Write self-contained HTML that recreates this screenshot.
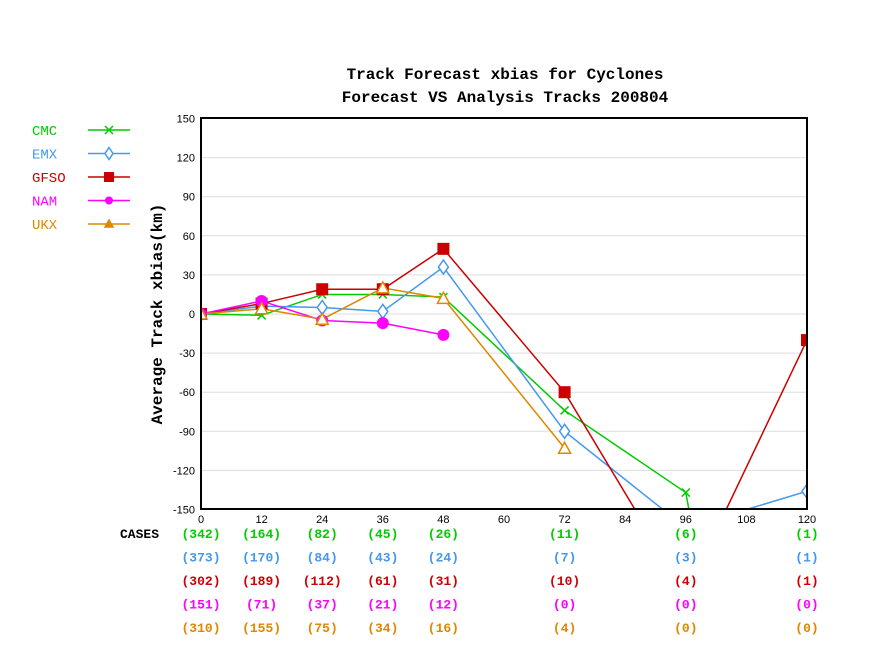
<!DOCTYPE html>
<html><head><meta charset="utf-8"><style>
body{margin:0;background:#fff;width:888px;height:666px;overflow:hidden}
svg{display:block}
</style></head><body>
<svg id="chart" width="888" height="666" xmlns="http://www.w3.org/2000/svg" font-family="Liberation Sans, sans-serif">
<defs><clipPath id="pc"><rect x="201" y="118" width="606" height="391"/></clipPath></defs>
<text x="505" y="79" text-anchor="middle" font-family="Liberation Mono, monospace" font-weight="bold" font-size="16">Track Forecast xbias for Cyclones</text>
<text x="505" y="102" text-anchor="middle" font-family="Liberation Mono, monospace" font-weight="bold" font-size="16">Forecast VS Analysis Tracks 200804</text>
<text transform="translate(162,314) rotate(-90)" text-anchor="middle" font-family="Liberation Mono, monospace" font-weight="bold" font-size="16">Average Track xbias(km)</text>
<text x="120" y="538" font-family="Liberation Mono, monospace" font-weight="bold" font-size="13">CASES</text>
<g id="grid"></g><g id="series" clip-path="url(#pc)"></g><g id="markers" clip-path="url(#pc)"></g>
<rect x="201" y="118" width="606" height="391" fill="none" stroke="#000" stroke-width="2"/>
<g id="axes"></g><g id="legend"></g><g id="cases"></g>
</svg>
<script>
const hours=[0,12,24,36,48,72,96,120];
const xTicks=[0,12,24,36,48,60,72,84,96,108,120];
const yTicks=[150,120,90,60,30,0,-30,-60,-90,-120,-150];
const names=["CMC","EMX","GFSO","NAM","UKX"];
const colors=["#00cc00","#4499ee","#cc0000","#ff00ff","#dd8800"];
const cmcVals=[0,-1,15,15,13,-74,-137,-650];
const emxVals=[0,6,5,2,36,-90,-164,-136];
const gfsoVals=[0,8,19,19,50,-60,-215,-20];
const namVals=[0,10,-5,-7,-16,null,null,null];
const ukxVals=[0,4,-4,20,12,-103,null,null];
const cmcCases=["342","164","82","45","26","11","6","1"];
const emxCases=["373","170","84","43","24","7","3","1"];
const gfsoCases=["302","189","112","61","31","10","4","1"];
const namCases=["151","71","37","21","12","0","0","0"];
const ukxCases=["310","155","75","34","16","4","0","0"];
const allVals=[cmcVals,emxVals,gfsoVals,namVals,ukxVals];
const allCases=[cmcCases,emxCases,gfsoCases,namCases,ukxCases];
const NS="http://www.w3.org/2000/svg";
const X=h=>201+h*(606/120);
const Y=v=>314-v*(391/300);
function mk(p,t,a){const e=document.createElementNS(NS,t);for(const k in a)e.setAttribute(k,a[k]);p.appendChild(e);return e;}
const g=document.getElementById('grid'),ax=document.getElementById('axes');
yTicks.forEach(v=>{
 if(v!==150&&v!==-150){const l=mk(g,'line',{x1:201,x2:807,y1:Y(v),y2:Y(v),stroke:'#ddd','stroke-width':1});
 
 }
 const t=mk(ax,'text',{x:195,y:Y(v)+4,'text-anchor':'end','font-size':11});t.textContent=v;
 
 
});
xTicks.forEach(h=>{const t=mk(ax,'text',{x:X(h),y:523,'text-anchor':'middle','font-size':11});t.textContent=h;
 
 });
function marker(p,i,x,y,big){
 const c=colors[i];let e;
 if(i===0){e=mk(p,'path',{d:`M${x-4},${y-4}L${x+4},${y+4}M${x-4},${y+4}L${x+4},${y-4}`,stroke:c,'stroke-width':1.5,fill:'none'});}
 else if(i===1){const s=big?6:5;e=mk(p,'path',{d:`M${x},${y-s-1}L${x+s-1},${y}L${x},${y+s+1}L${x-s+1},${y}Z`,stroke:c,'stroke-width':1.5,fill:'#fff'});}
 else if(i===2){const s=big?6:5;e=mk(p,'rect',{x:x-s,y:y-s,width:2*s,height:2*s,fill:c});}
 else if(i===3){e=mk(p,'circle',{cx:x,cy:y,r:big?6:4,fill:c});}
 else {const s=big?6:4;e=mk(p,'path',{d:`M${x},${y-s}L${x+s},${y+s-1}L${x-s},${y+s-1}Z`,stroke:c,'stroke-width':1.5,fill:big?'#fff':c});}
 return e;
}
const sg=document.getElementById('series'),mg=document.getElementById('markers');
allVals.forEach((vals,i)=>{
 const pts=[];vals.forEach((v,k)=>{if(v!==null)pts.push([X(hours[k]),Y(v)]);});
 const pl=mk(sg,'polyline',{points:pts.map(p=>p.join(',')).join(' '),fill:'none',stroke:colors[i],'stroke-width':1.5});
 
 
 pts.forEach(p=>{const m=marker(mg,i,p[0],p[1],true);
  
  });
});
const lg=document.getElementById('legend');
names.forEach((n,i)=>{
 const y=130+i*23.5;
 const t=mk(lg,'text',{x:32,y:y+5,fill:colors[i],'font-family':'Liberation Mono, monospace','font-size':14});t.textContent=n;
 
 
 const l=mk(lg,'line',{x1:88,x2:130,y1:y,y2:y,stroke:colors[i],'stroke-width':1.5});
 
 
 marker(lg,i,109,y,false);
});
const cg=document.getElementById('cases');
allCases.forEach((arr,i)=>{
 arr.forEach((c,k)=>{const t=mk(cg,'text',{x:X(hours[k]),y:538+i*23.5,'text-anchor':'middle',fill:colors[i],'font-family':'Liberation Mono, monospace','font-weight':'bold','font-size':13});
  t.textContent='('+c+')';
  
  });
});
</script>
</body></html>
